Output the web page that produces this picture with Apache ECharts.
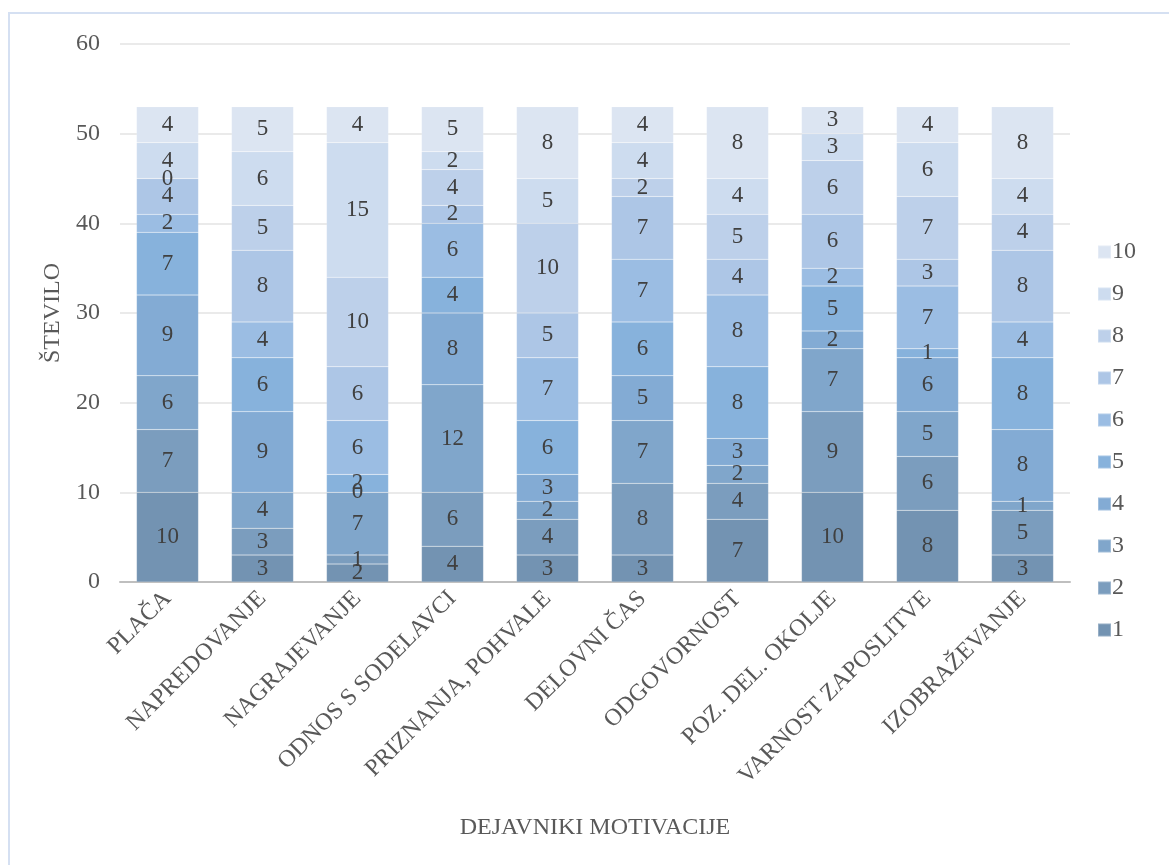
<!DOCTYPE html>
<html lang="sl">

<head>
    <meta charset="UTF-8">
    <title>Dejavniki motivacije</title>
    <script src="https://cdn.jsdelivr.net/npm/echarts@6/dist/echarts.min.js"></script>
    <style>
        html, body { margin: 0; padding: 0; background: #fff; }
    </style>
</head>

<body>
    <div id="main" style="width:1169px;height:865px;"></div>
    <script>
        var myChart = echarts.init(document.getElementById("main"));

        // kategorije (dejavniki)
        var categories = ['PLAČA', 'NAPREDOVANJE', 'NAGRAJEVANJE', 'ODNOS S SODELAVCI', 'PRIZNANJA, POHVALE',
            'DELOVNI ČAS', 'ODGOVORNOST', 'POZ. DEL. OKOLJE', 'VARNOST ZAPOSLITVE', 'IZOBRAŽEVANJE'];

        // ocene 1..10, vrednosti po kategorijah
        var s1 = [10, 3, 2, 4, 3, 3, 7, 10, 8, 3];
        var s2 = [7, 3, 1, 6, 4, 8, 4, 9, 6, 5];
        var s3 = [6, 4, 7, 12, 2, 7, 2, 7, 5, 1];
        var s4 = [9, 9, 0, 8, 3, 5, 3, 2, 6, 8];
        var s5 = [7, 6, 2, 4, 6, 6, 8, 5, 1, 8];
        var s6 = [2, 4, 6, 6, 7, 7, 8, 2, 7, 4];
        var s7 = [4, 8, 6, 2, 5, 7, 4, 6, 3, 8];
        var s8 = [0, 5, 10, 4, 10, 2, 5, 6, 7, 4];
        var s9 = [4, 6, 15, 2, 5, 4, 4, 3, 6, 4];
        var s10 = [4, 5, 4, 5, 8, 4, 8, 3, 4, 8];

        var seriesNames = ['1', '2', '3', '4', '5', '6', '7', '8', '9', '10'];
        var yTicks = [0, 10, 20, 30, 40, 50, 60];

        var values = [s1, s2, s3, s4, s5, s6, s7, s8, s9, s10];
        // barve od temne do svetle
        var colors = ['#7393b2', '#7b9dbe', '#80a6cb', '#83abd4', '#87b2dc', '#9bbde3', '#adc6e6', '#bdd0ea', '#cddcef', '#dce5f2'];

        var font = 'Liberation Serif';
        var fs = 24;

        var seriesObj = [];
        for (var i = 0; i < values.length; i++) {
            seriesObj.push({
                name: seriesNames[i],
                type: 'bar',
                stack: 'total',
                barWidth: 62,
                itemStyle: {
                    color: colors[i],
                    borderColor: 'rgba(255,255,255,0.25)',
                    borderWidth: 0.5
                },
                label: {
                    show: true,
                    position: 'inside',
                    color: '#404040',
                    fontFamily: font,
                    fontSize: 23
                },
                data: values[i]
            });
        }

        var option = {
            backgroundColor: '#fff',
            animation: false,
            textStyle: { fontFamily: font },
            graphic: [{
                type: 'rect',
                shape: { x: 9, y: 13, width: 1200, height: 900 },
                style: { fill: 'none', stroke: '#d5e0f2', lineWidth: 2 }
            }],
            legend: {
                orient: 'vertical',
                left: 1092,
                top: 235,
                itemGap: 18,
                itemWidth: 13,
                itemHeight: 13,
                icon: 'rect',
                data: seriesNames.slice().reverse(),
                textStyle: { color: '#595959', fontFamily: font, fontSize: fs, padding: [0, 0, 0, -4] }
            },
            grid: {
                left: 120,
                right: 99,
                top: 44,
                bottom: 283,
                containLabel: false
            },
            xAxis: {
                type: 'category',
                data: categories,
                name: 'DEJAVNIKI MOTIVACIJE',
                nameLocation: 'middle',
                nameGap: 234,
                nameTextStyle: { color: '#595959', fontFamily: font, fontSize: fs },
                axisLine: { lineStyle: { color: '#bfbfbf', width: 2 } },
                axisTick: { show: false },
                axisLabel: {
                    rotate: 45,
                    interval: 0,
                    color: '#595959',
                    fontFamily: font,
                    fontSize: fs,
                    margin: 13
                }
            },
            yAxis: {
                type: 'value',
                min: yTicks[0],
                max: yTicks[yTicks.length - 1],
                interval: 10,
                name: 'ŠTEVILO',
                nameLocation: 'middle',
                nameGap: 50,
                nameTextStyle: { color: '#595959', fontFamily: font, fontSize: fs },
                axisLine: { show: false },
                axisTick: { show: false },
                axisLabel: {
                    color: '#595959',
                    fontFamily: font,
                    fontSize: fs,
                    margin: 20
                },
                splitLine: { lineStyle: { color: '#e3e3e3', width: 1.5 } }
            },
            series: seriesObj
        };
        myChart.setOption(option);
    </script>
</body>

</html>
